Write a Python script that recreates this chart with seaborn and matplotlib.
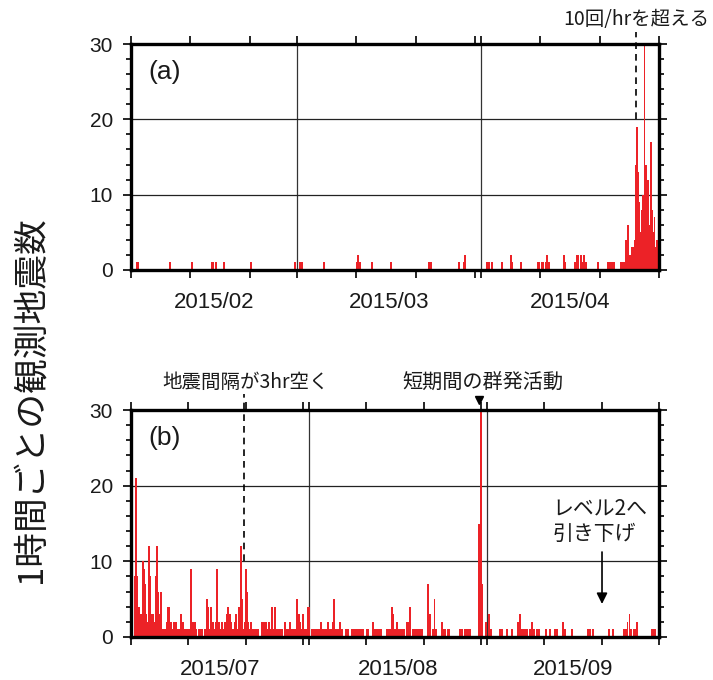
import numpy as np
import pandas as pd
import matplotlib
matplotlib.use("Agg")
import matplotlib.pyplot as plt
import matplotlib.dates as mdates
from matplotlib.ticker import FixedLocator, MultipleLocator, FuncFormatter, NullFormatter
import seaborn as sns

# (a) 2015/02 - 2015/04, hourly counts (days after start, count)
a_start, a_end = "2015-02-01", "2015-05-01"
a_day = [1.01, 1.23, 6.52, 10.33, 13.6, 13.82, 14.28, 15.62, 20.28, 27.59,
         28.54, 28.77, 32.58, 38.04, 38.26, 38.55, 40.57, 43.77, 50.28, 50.51,
         55.23, 56.1, 56.35, 59.95, 60.29, 60.9, 62.53, 64.05, 64.25, 65.68,
         68.55, 68.77, 69.22, 69.44, 69.9, 70.17, 70.4, 72.98, 73.15, 74.84,
         75.12, 75.39, 75.8, 76.07, 76.35, 76.69, 78.66, 80.45, 80.74, 81.07,
         81.41, 82.54, 82.88, 83.14, 83.48, 83.77, 84.1, 84.36, 84.61, 84.86,
         85.07, 85.29, 85.5, 85.71, 85.91, 86.13, 86.35, 86.55, 86.75, 86.97,
         87.19, 87.39, 87.59, 87.81, 88.03, 88.24, 88.44, 88.66, 88.88]
a_count = [1, 1, 1, 1, 1, 1, 1, 1, 1, 1,
           1, 1, 1, 1, 2, 1, 1, 1, 1, 1,
           1, 1, 2, 1, 1, 1, 1, 2, 1, 1,
           1, 1, 1, 1, 1, 2, 1, 2, 1, 1,
           2, 2, 2, 1, 2, 1, 1, 1, 1, 1,
           1, 1, 1, 1, 4, 6, 2, 3, 3, 4,
           14, 19, 13, 9, 5, 8, 10, 30, 14, 9,
           12, 6, 17, 8, 5, 7, 3, 4, 2]

# (b) 2015/07 - 2015/09
b_start, b_end = "2015-07-01", "2015-10-01"
b_day = [0.64, 0.87, 1.1, 1.39, 1.57, 1.79, 2.04, 2.27, 2.49, 2.67,
         2.84, 3.14, 3.31, 3.54, 3.78, 4.01, 4.3, 4.53, 4.76, 5.0,
         5.23, 5.45, 5.75, 6.05, 6.27, 6.45, 6.67, 6.92, 7.2, 7.44,
         7.67, 7.89, 8.19, 8.49, 8.76, 9.06, 9.36, 9.64, 9.93, 10.28,
         10.51, 10.8, 11.1, 11.38, 11.8, 12.08, 12.37, 12.84, 13.19, 13.42,
         13.71, 13.99, 14.24, 14.46, 14.76, 15.04, 15.28, 15.56, 15.86, 16.15,
         16.43, 16.68, 16.9, 17.2, 17.48, 17.77, 18.07, 18.35, 18.59, 18.87,
         19.12, 19.29, 19.57, 19.81, 20.04, 20.21, 20.39, 20.68, 20.96, 21.26,
         21.49, 21.78, 22.18, 22.88, 23.17, 23.47, 23.75, 24.05, 24.34, 24.62,
         24.87, 25.14, 25.39, 25.67, 26.02, 26.26, 26.83, 27.13, 27.41, 27.71,
         28.0, 28.35, 28.63, 28.98, 29.22, 29.5, 29.74, 30.02, 30.32, 30.55,
         30.79, 31.02, 31.59, 31.89, 32.18, 32.46, 32.76, 33.06, 33.33, 33.68,
         33.98, 34.28, 34.55, 34.85, 35.15, 35.38, 35.67, 36.02, 36.47, 36.71,
         37.46, 37.86, 38.46, 38.74, 39.03, 39.33, 39.61, 39.9, 40.2, 40.48,
         41.07, 41.35, 42.12, 42.39, 42.69, 42.99, 43.27, 43.56, 44.56, 45.01,
         45.25, 45.53, 45.71, 46.0, 46.4, 46.7, 47.0, 47.28, 47.57, 48.04,
         48.32, 48.62, 49.19, 49.49, 49.78, 50.06, 50.36, 50.71, 51.81, 52.1,
         52.57, 52.89, 53.15, 54.14, 54.42, 54.72, 55.29, 55.46, 57.33, 57.62,
         58.2, 58.49, 58.77, 59.07, 60.69, 60.93, 61.16, 61.81, 62.43, 62.73,
         64.3, 64.59, 65.46, 66.44, 67.38, 67.83, 68.13, 68.48, 68.77, 69.05,
         69.47, 69.82, 70.27, 70.69, 71.09, 72.26, 73.01, 73.88, 74.18, 75.33,
         75.62, 76.9, 79.58, 79.98, 80.55, 83.34, 84.04, 85.9, 86.2, 86.51,
         86.86, 87.12, 87.7, 87.99, 88.22, 90.73, 91.01, 91.3]
b_count = [8, 21, 8, 4, 2, 3, 10, 9, 7, 3,
           2, 12, 8, 3, 3, 2, 8, 12, 6, 3,
           6, 1, 1, 1, 2, 4, 4, 2, 1, 2,
           2, 2, 1, 1, 3, 2, 1, 1, 1, 1,
           9, 2, 2, 1, 1, 1, 1, 1, 5, 4,
           1, 4, 2, 1, 2, 9, 2, 1, 2, 1,
           2, 3, 4, 3, 2, 1, 2, 3, 1, 4,
           12, 5, 1, 2, 9, 6, 2, 1, 2, 1,
           1, 1, 1, 2, 2, 2, 1, 2, 1, 4,
           1, 4, 1, 1, 1, 1, 2, 1, 1, 2,
           1, 1, 1, 5, 3, 2, 1, 3, 1, 1,
           4, 4, 1, 1, 1, 1, 1, 2, 1, 1,
           1, 2, 1, 1, 2, 5, 1, 1, 2, 1,
           1, 1, 1, 1, 1, 1, 1, 1, 1, 1,
           1, 1, 2, 1, 1, 1, 1, 1, 1, 1,
           1, 4, 3, 1, 2, 1, 1, 1, 1, 2,
           2, 4, 1, 1, 1, 1, 1, 1, 7, 3,
           1, 5, 1, 2, 1, 1, 1, 1, 1, 1,
           1, 1, 1, 1, 15, 30, 7, 2, 3, 1,
           1, 1, 1, 1, 2, 3, 1, 1, 1, 1,
           1, 2, 1, 1, 1, 1, 1, 1, 1, 2,
           1, 1, 1, 1, 1, 1, 1, 1, 1, 2,
           3, 1, 1, 1, 2, 1, 1, 1]

RED = "#ec2227"
JP = ["Noto Sans CJK JP", "DejaVu Sans"]

sns.set_style("white")
plt.rcParams["font.family"] = ["Liberation Sans", "Noto Sans CJK JP", "DejaVu Sans"]
plt.rcParams["text.color"] = "#1a1a1a"
plt.rcParams["xtick.color"] = "#1a1a1a"
plt.rcParams["ytick.color"] = "#1a1a1a"


def draw_panel(ax, start, end, days, counts, tag):
    x0 = mdates.date2num(pd.Timestamp(start))
    x1 = mdates.date2num(pd.Timestamp(end))
    ax.bar(x0 + np.asarray(days), counts, width=0.31, color=RED,
           linewidth=0, zorder=2)
    ax.set_xlim(x0, x1)
    ax.set_ylim(0, 30)

    edges = mdates.date2num(pd.date_range(start, end, freq="MS"))
    for e in edges[1:-1]:
        ax.axvline(e, color="#333333", lw=0.9, zorder=1)
    for yv in (10, 20):
        ax.axhline(yv, color="#222222", lw=0.9, zorder=1)

    ax.xaxis.set_major_locator(mdates.DayLocator(bymonthday=[1, 11, 21, 31]))
    ax.xaxis.set_major_formatter(NullFormatter())
    mids = (edges[:-1] + edges[1:]) / 2
    ax.xaxis.set_minor_locator(FixedLocator(mids))
    ax.xaxis.set_minor_formatter(
        FuncFormatter(lambda v, p: mdates.num2date(v).strftime("%Y/%m")))
    ax.tick_params(axis="x", which="major", direction="out", length=6,
                   width=1.2, top=True, bottom=True, color="black")
    ax.tick_params(axis="x", which="minor", length=0, pad=16, labelsize=16)

    ax.yaxis.set_major_locator(MultipleLocator(10))
    ax.yaxis.set_minor_locator(MultipleLocator(2))
    ax.tick_params(axis="y", which="both", left=True, right=True,
                   direction="out", width=1.2, color="black", labelsize=15, pad=7)
    ax.tick_params(axis="y", which="major", length=6)
    ax.tick_params(axis="y", which="minor", length=3.5)

    for s in ax.spines.values():
        s.set_linewidth(2.4)
        s.set_color("black")
        s.set_zorder(4)

    ax.text(0.032, 0.876, tag, transform=ax.transAxes, fontsize=19,
            ha="left", va="center")
    return x0


fig = plt.figure(figsize=(7.13, 6.80), dpi=100)
ax_a = fig.add_axes([131 / 713, 1 - 270 / 680, 528 / 713, 226 / 680])
ax_b = fig.add_axes([131 / 713, 1 - 637 / 680, 528 / 713, 227 / 680])

xa = draw_panel(ax_a, a_start, a_end, a_day, a_count, "(a)")
xb = draw_panel(ax_b, b_start, b_end, b_day, b_count, "(b)")

# (a) annotation
ax_a.plot([xa + 85.1] * 2, [20, 31.6], ls=(0, (4, 3)), color="black",
          lw=1.2, clip_on=False, zorder=3)
ax_a.text(xa + 85.1, 33.3, "10回/hrを超える", family=JP, fontsize=14,
          ha="center", va="center")

# (b) annotations
ax_b.plot([xb + 19.69] * 2, [10, 32.1], ls=(0, (4, 3)), color="black",
          lw=1.2, clip_on=False, zorder=3)
ax_b.text(xb + 20.0, 33.7, "地震間隔が3hr空く", family=JP, fontsize=14,
          ha="center", va="center")
ax_b.plot(xb + 60.64, 31.3, marker="v", color="black", markersize=6,
          clip_on=False, zorder=5)
ax_b.text(xb + 61.3, 33.7, "短期間の群発活動", family=JP, fontsize=14.5,
          ha="center", va="center")
ax_b.text(xb + 81.7, 15.3, "レベル2へ\n引き下げ", family=JP, fontsize=15,
          ha="center", va="center", multialignment="left", linespacing=1.25)
ax_b.annotate("", xy=(xb + 82.07, 4.0), xytext=(xb + 82.07, 11.6),
              arrowprops=dict(arrowstyle="-|>", color="black", lw=1.2,
                              mutation_scale=16))

fig.text(0.0435, 0.413, "1時間ごとの観測地震数", rotation=90, family=JP,
         fontsize=25, ha="center", va="center")

fig.savefig("out.png", dpi=100)
